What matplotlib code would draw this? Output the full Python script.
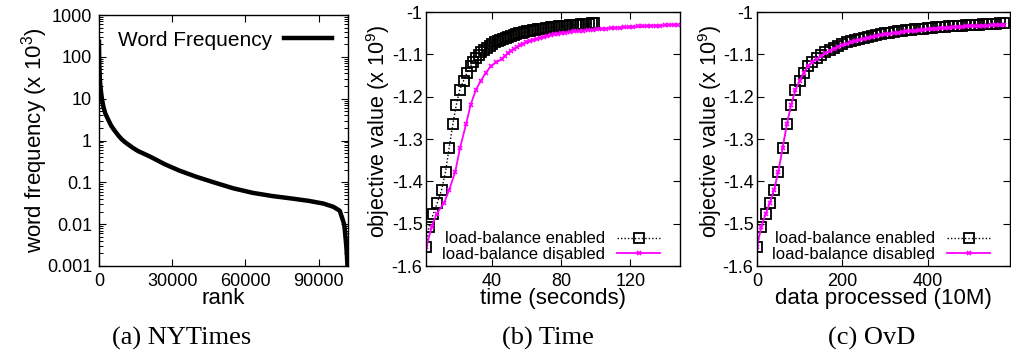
import matplotlib
matplotlib.use('Agg')
import matplotlib.pyplot as plt
from matplotlib.ticker import LogLocator, NullFormatter, FixedLocator

plt.rcParams['font.family'] = ['Liberation Sans', 'DejaVu Sans']
plt.rcParams['mathtext.default'] = 'regular'

# (a) word frequency by rank (x 10^3)
rank = [1, 50, 150, 300, 500, 800, 1200, 1800, 2600, 3600, 5000, 6000, 7000,
        8000, 9300, 10500, 12000, 14000, 16000, 21000, 27000, 33000, 40000,
        47000, 55000, 63000, 71000, 79000, 86000, 92000, 96000, 98600, 99800,
        100400, 100700, 101300, 101600, 101800, 101900]
word_freq = [230, 130, 60, 35, 22, 15, 10, 6.4, 4.4, 3.3, 2.25, 1.85, 1.55,
             1.3, 1.07, 0.93, 0.8, 0.66, 0.56, 0.41, 0.27, 0.19, 0.135, 0.1,
             0.072, 0.056, 0.047, 0.041, 0.036, 0.031, 0.026, 0.021, 0.013,
             0.01, 0.0072, 0.003, 0.0016, 0.0009, 0.0005]

# (b)/(c) objective value (x 10^9) per iteration
obj_enabled = [-1.555, -1.507, -1.477, -1.451, -1.420, -1.377, -1.322, -1.265,
               -1.219, -1.185, -1.162, -1.143, -1.127, -1.117, -1.108, -1.101,
               -1.095, -1.089, -1.084, -1.080, -1.076, -1.072, -1.069, -1.066,
               -1.063, -1.061, -1.058, -1.056, -1.054, -1.052, -1.050, -1.049,
               -1.047, -1.046, -1.044, -1.043, -1.042, -1.041, -1.040, -1.039,
               -1.038, -1.037, -1.036, -1.035, -1.035, -1.034, -1.033, -1.033,
               -1.032, -1.031, -1.031, -1.030, -1.030, -1.029, -1.029, -1.028,
               -1.028, -1.027, -1.027]
obj_disabled = [-1.555, -1.507, -1.477, -1.451, -1.420, -1.377, -1.322, -1.265,
                -1.219, -1.185, -1.162, -1.143, -1.128, -1.119, -1.111, -1.104,
                -1.098, -1.092, -1.087, -1.083, -1.079, -1.075, -1.072, -1.069,
                -1.066, -1.064, -1.061, -1.059, -1.057, -1.055, -1.053, -1.052,
                -1.050, -1.049, -1.047, -1.046, -1.045, -1.044, -1.043, -1.042,
                -1.041, -1.040, -1.039, -1.038, -1.038, -1.037, -1.036, -1.036,
                -1.035, -1.034, -1.034, -1.033, -1.033, -1.032, -1.032, -1.031,
                -1.031, -1.030, -1.030]
time_enabled = [2.3, 3.8, 6.3, 8.6, 11.1, 13.4, 15.4, 17.6, 19.6, 21.5, 23.8,
                25.9, 27.9, 29.5, 31.0, 32.6, 34.1, 35.7, 37.2, 38.8, 40.3,
                41.9, 43.4, 45.0, 46.5, 48.1, 49.6, 51.2, 52.7, 54.3, 55.8,
                57.4, 58.9, 60.5, 62.0, 63.6, 65.1, 66.7, 68.2, 69.8, 71.3,
                72.9, 74.4, 76.0, 77.5, 79.1, 80.6, 82.2, 83.7, 85.3, 86.8,
                88.4, 89.9, 91.5, 93.0, 94.6, 96.1, 97.7, 99.2]
time_disabled = [2.3, 5.4, 8.2, 12.5, 15.5, 19.0, 21.7, 25.2, 27.9, 30.8, 33.8,
                 36.7, 39.6, 42.5, 45.8, 47.6, 49.4, 51.1, 52.9, 54.7, 56.5,
                 58.2, 60.0, 62.0, 64.0, 66.0, 68.0, 70.0, 72.0, 74.0, 76.0,
                 78.0, 80.0, 82.6, 85.2, 87.8, 90.4, 93.0, 95.6, 98.2, 100.8,
                 103.4, 106.0, 108.6, 111.2, 113.8, 116.4, 119.0, 121.6, 124.2,
                 126.8, 129.4, 132.0, 134.6, 137.2, 139.8, 142.4, 145.0, 147.6]
data_processed = [0, 10, 20, 30, 40, 50, 60, 70, 80, 90, 100, 110, 120, 130,
                  140, 150, 160, 170, 180, 190, 200, 210, 220, 230, 240, 250,
                  260, 270, 280, 290, 300, 310, 320, 330, 340, 350, 360, 370,
                  380, 390, 400, 410, 420, 430, 440, 450, 460, 470, 480, 490,
                  500, 510, 520, 530, 540, 550, 560, 570, 580]

obj_ticks = [-1.6, -1.5, -1.4, -1.3, -1.2, -1.1, -1.0]
obj_ticklabels = ['-1.6', '-1.5', '-1.4', '-1.3', '-1.2', '-1.1', '-1']

W, H = 1011, 358
fig = plt.figure(figsize=(W / 100, H / 100), dpi=100)


def box(l, t, r, b):
    return [l / W, 1 - b / H, (r - l) / W, (b - t) / H]


def style(ax, pad):
    ax.tick_params(direction='in', top=True, right=True, length=5, width=0.8,
                   labelsize=13)
    ax.tick_params(axis='x', pad=5)
    ax.tick_params(axis='y', pad=pad)
    ax.tick_params(which='minor', direction='in', top=True, right=True,
                   length=3, width=0.7)
    for s in ax.spines.values():
        s.set_linewidth(1.0)


# ---- (a) NYTimes
ax1 = fig.add_axes(box(99, 15, 348, 266))
ax1.plot(rank, word_freq, color='black', lw=3.2, label='Word Frequency',
         solid_joinstyle='round')
ax1.set_yscale('log')
ax1.set_ylim(0.001, 1000)
ax1.set_xlim(0, 102000)
ax1.set_xticks([0, 30000, 60000, 90000])
ax1.set_yticks([0.001, 0.01, 0.1, 1, 10, 100, 1000])
ax1.set_yticklabels(['0.001', '0.01', '0.1', '1', '10', '100', '1000'])
ax1.yaxis.set_minor_locator(LogLocator(base=10, subs=(2, 3, 4, 5, 6, 7, 8, 9), numticks=20))
ax1.yaxis.set_minor_formatter(NullFormatter())
style(ax1, 5)
ax1.set_xlabel('rank', fontsize=16)
ax1.xaxis.set_label_coords(0.5, -0.088)
ax1.set_ylabel('word frequency (x 10$^{3}$)', fontsize=16, va='center')
ax1.yaxis.set_label_coords((35 - 99) / 249, 0.5)
ax1.legend(loc='upper right', frameon=False, markerfirst=False, fontsize=15,
           handlelength=2.3, handletextpad=0.6, borderaxespad=0.75,
           borderpad=0.0)

# ---- (b) Time and (c) OvD
def obj_panel(ax, x_en, x_dis, xlim, xticks):
    ax.plot(x_en, obj_enabled, color='black', ls=(0, (1, 1.5)), lw=1.0,
            marker='s', ms=7, mfc='none', mec='black', mew=1.3,
            label='load-balance enabled')
    ax.plot(x_dis, obj_disabled, color='#ff00ff', lw=1.3, marker='x', ms=3.5,
            mew=1.2, label='load-balance disabled')
    ax.set_xlim(*xlim)
    ax.set_ylim(-1.6, -1.0)
    ax.set_xticks(xticks)
    ax.yaxis.set_major_locator(FixedLocator(obj_ticks))
    ax.set_yticklabels(obj_ticklabels)
    style(ax, 2.5)
    ax.set_ylabel('objective value (x 10$^{9}$)', fontsize=15.5, va='center')
    ax.legend(loc='lower right', bbox_to_anchor=(0.929, 0.008),
              frameon=False, markerfirst=False, fontsize=12,
              handlelength=2.6, handletextpad=0.7, labelspacing=0.05,
              borderaxespad=0.0, borderpad=0.1, numpoints=1)


ax2 = fig.add_axes(box(426, 12, 680, 266))
obj_panel(ax2, time_enabled, time_disabled, (2.1, 148.7), [40, 80, 120])
ax2.set_xlabel('time (seconds)', fontsize=16)
ax2.xaxis.set_label_coords(0.5, -0.087)
ax2.yaxis.set_label_coords((378 - 426) / 254, 0.53)

ax3 = fig.add_axes(box(757, 12, 1010, 266))
obj_panel(ax3, data_processed, data_processed, (0, 593), [0, 200, 400])
ax3.set_xlabel('data processed (10M)', fontsize=16)
ax3.xaxis.set_label_coords(0.5, -0.087)
ax3.yaxis.set_label_coords((710 - 757) / 253, 0.53)

# captions
for cx, txt in [(182, '(a) NYTimes'), (548, '(b) Time'), (872, '(c) OvD')]:
    fig.text(cx / W, 1 - 338 / H, txt, ha='center', va='center',
             fontsize=19, family='Liberation Serif')

fig.savefig('out.png', dpi=100)
